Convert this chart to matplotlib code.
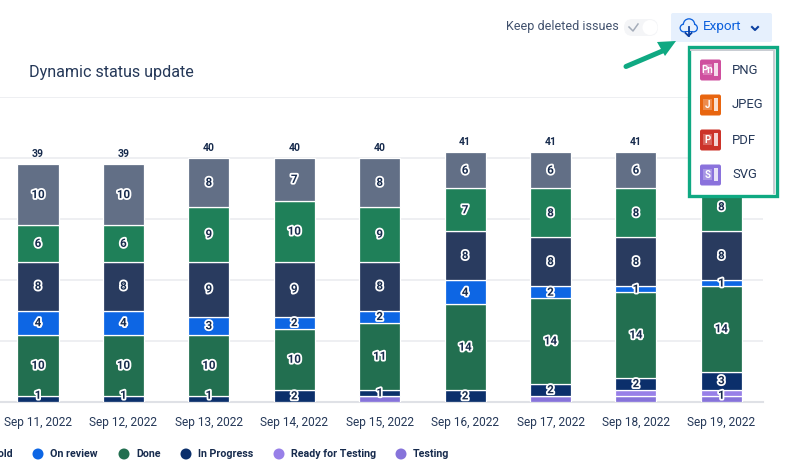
import matplotlib
matplotlib.use('Agg')
import matplotlib.pyplot as plt
import matplotlib.patheffects as pe
from matplotlib.patches import FancyBboxPatch, Rectangle, Circle, Polygon

plt.rcParams['font.family'] = ['Roboto', 'DejaVu Sans']

dates = ['Sep 11, 2022', 'Sep 12, 2022', 'Sep 13, 2022', 'Sep 14, 2022', 'Sep 15, 2022',
         'Sep 16, 2022', 'Sep 17, 2022', 'Sep 18, 2022', 'Sep 19, 2022']
testing = [0, 0, 0, 0, 1, 0, 1, 1, 1]
ready = [0, 0, 0, 0, 0, 0, 0, 1, 1]
in_progress = [1, 1, 1, 2, 1, 2, 2, 2, 3]
done = [10, 10, 10, 10, 11, 14, 14, 14, 14]
on_review = [4, 4, 3, 2, 2, 4, 2, 1, 1]
on_hold = [8, 8, 9, 9, 8, 8, 8, 8, 8]
green = [6, 6, 9, 10, 9, 7, 8, 8, 8]
grey = [10, 10, 8, 7, 8, 6, 6, 6, 6]
series = [testing, ready, in_progress, done, on_review, on_hold, green, grey]
colors = ['#8673da', '#9880e8', '#0b2f6b', '#226f50', '#0d66e4', '#293b5f', '#1f8059', '#626f86']
# labels the chart drops on the thin purple segments: (series index, date index)
no_label = [(0, 4), (0, 6), (0, 7), (1, 7), (1, 8)]
legend_names = ['On hold', 'On review', 'Done', 'In Progress', 'Ready for Testing', 'Testing']
legend_colors = ['#293b5f', '#0d66e4', '#226f50', '#0b2f6b', '#9880e8', '#8673da']
legend_text_x = [-30, 50, 136, 198, 291, 413]
menu_items = ['PNG', 'JPEG', 'PDF', 'SVG']
menu_colors = ['#cf4f9e', '#e8650f', '#cc3329', '#8a72dc']
menu_letters = ['Pn', 'J', 'P', 'S']

W, H = 790, 469
dark = '#172b4d'
fig = plt.figure(figsize=(W / 100, H / 100), dpi=100)
ax = fig.add_axes([0, (H - 402) / H, 763 / W, (402 - 97) / H])

step = 85.42
ax.set_xlim(-38 / step, (763 - 38) / step)
ax.set_ylim(0, 50)

bottom = [0] * len(dates)
halo = [pe.withStroke(linewidth=2.6, foreground='white')]
for k, (vals, c) in enumerate(zip(series, colors)):
    ax.bar(range(len(dates)), vals, 0.48, bottom=bottom, color=c, edgecolor='white', linewidth=0.9, zorder=3)
    for i, v in enumerate(vals):
        if v > 0 and (k, i) not in no_label:
            # a thin segment on the axis gets its label pushed up
            shift = 0.6 if v == 1 and bottom[i] == 0 else 0
            ax.text(i, bottom[i] + v / 2 + shift, str(v), color=dark, fontsize=8.3, fontweight='bold',
                    ha='center', va='center', path_effects=halo, zorder=4)
    bottom = [b + v for b, v in zip(bottom, vals)]

for i, t in enumerate(bottom):
    ax.annotate(str(t), (i, t), xytext=(0, 7), textcoords='offset points', ha='center', va='center',
                fontsize=7.5, fontweight='bold', color=dark, zorder=4)

ax.set_xticks(range(len(dates)), dates)
ax.tick_params(axis='x', length=0, pad=10, labelsize=8.6, labelcolor='#253858')
ax.set_yticks(range(0, 51, 10))
ax.tick_params(axis='y', left=False, labelleft=False)
ax.grid(axis='y', color='#ebecf0', linewidth=1.2, zorder=0)
for s in ['top', 'left', 'right']:
    ax.spines[s].set_visible(False)
ax.spines['bottom'].set_color('#dfe1e6')
ax.spines['bottom'].set_linewidth(1.5)

# overlay in pixel coordinates for the page furniture
ui = fig.add_axes([0, 0, 1, 1], zorder=5)
ui.set_xlim(0, W)
ui.set_ylim(H, 0)
ui.axis('off')
ui.patch.set_alpha(0)

ui.text(29, 73, 'Dynamic status update', fontsize=11.6, color='#253858', va='center')

# legend
for name, c, tx in zip(legend_names, legend_colors, legend_text_x):
    if tx > 0:
        ui.add_patch(Circle((tx - 12, 454), 5.5, color=c, lw=0))
    ui.text(tx if tx > 0 else 13, 454, name, fontsize=7.7, fontweight='bold', color=dark, va='center',
            ha='left' if tx > 0 else 'right')

# toggle and export button
ui.text(506, 26.5, 'Keep deleted issues', fontsize=9, color='#42526e', va='center')
ui.add_patch(FancyBboxPatch((624, 19), 34, 17, boxstyle='round,pad=0,rounding_size=8.5', fc='#f4f5f7', ec='none'))
ui.add_patch(Circle((650, 27.5), 7.5, fc='white', ec='none'))
ui.plot([629, 633, 638], [27, 31, 24], color='#a5adba', lw=1.1)
ui.add_patch(FancyBboxPatch((671, 13), 101, 29, boxstyle='round,pad=0,rounding_size=2', fc='#e6f0fd', ec='none'))
ui.text(703, 26.5, 'Export', fontsize=9.7, color='#0b5fdc', va='center')
ui.plot([752, 755, 758], [27, 30, 27], color='#0b3fa0', lw=1.5)
# cloud icon: blue blobs with the button colour on top leave only the outline
for fc, grow in [('#0b5fdc', 1.3), ('#e6f0fd', 0)]:
    ui.add_patch(Circle((689, 24.5), 5 + grow, fc=fc, ec='none'))
    ui.add_patch(Circle((693.5, 28), 3.2 + grow, fc=fc, ec='none'))
    ui.add_patch(Circle((684, 28), 3.2 + grow, fc=fc, ec='none'))
    ui.add_patch(Rectangle((684, 27), 10, 4.2 + grow, fc=fc, ec='none'))
ui.plot([688.5, 688.5], [27, 36], color='#0b3fa0', lw=1.3)
ui.plot([685.5, 688.5, 691.5], [33, 36, 33], color='#0b3fa0', lw=1.3)

# arrow pointing at the button
ui.plot([626, 666], [66.5, 49.5], color='#0fa982', lw=3.6, solid_capstyle='round')
ui.add_patch(Polygon([(676, 41), (657, 42), (665, 56)], fc='#0fa982', ec='none'))

# dropdown menu
ui.add_patch(Rectangle((689, 47), 88, 149, fc='white', ec='#0fa982', lw=2.4))
ui.plot([691, 774, 774], [50, 50, 193], color='#c8ccd2', lw=1.4)
for k, (lab, c, let) in enumerate(zip(menu_items, menu_colors, menu_letters)):
    yc = 70 + k * 35
    ui.add_patch(FancyBboxPatch((700, yc - 10.5), 21, 21, boxstyle='round,pad=0,rounding_size=2', fc=c, ec='none'))
    ui.add_patch(Rectangle((714, yc - 6.5), 4, 13, fc='white', ec='none', alpha=0.8))
    ui.add_patch(Rectangle((703, yc - 5.5), 9, 11, fc='white', ec='none', alpha=0.25))
    ui.text(707.5, yc, let, color='white', fontsize=7, fontweight='bold', ha='center', va='center')
    ui.text(732, yc, lab, color='#253858', fontsize=9.4, va='center')

fig.savefig('out.png', dpi=100, facecolor='white')
